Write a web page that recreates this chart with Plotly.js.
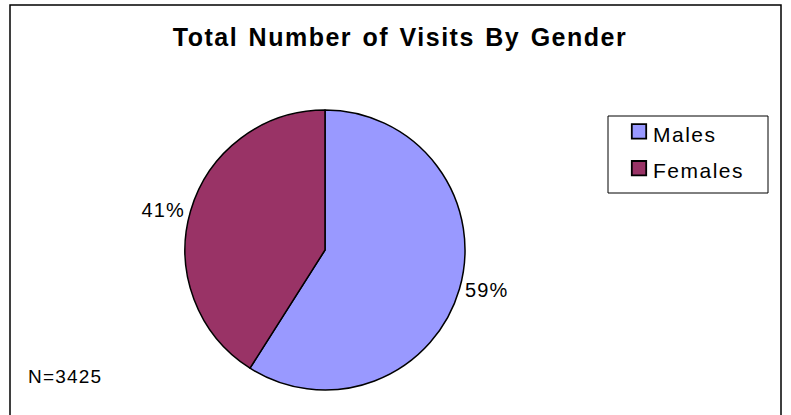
<!DOCTYPE html>
<html><head><meta charset="utf-8">
<script src="https://cdn.plot.ly/plotly-3.0.1.min.js"></script>
<style>
html,body{margin:0;padding:0;background:#fff}
#chart{width:791px;height:415px}
.gtitle{letter-spacing:1.5px;word-spacing:2px}
.legendtext{letter-spacing:1.5px}
.slicetext{letter-spacing:1.2px}
.annotation-text{letter-spacing:1.2px}
.legendpie{transform:translate(31px,0px) scale(1.2)}
</style>
</head><body><div id="chart"></div>
<script>
const categories = ["Males", "Females"];
const percentages = [59, 41];
const sliceColors = ["#9999FF", "#993366"];
const titleText = "Total Number of Visits By Gender";
const noteText = "N=3425";

const W = 791, H = 415;
const trace = {
  type: "pie",
  labels: categories.map(c => '<span style="font-size:21px">' + c + '</span>'),
  values: percentages,
  sort: false,
  direction: "clockwise",
  rotation: 0,
  marker: {colors: sliceColors, line: {color: "#000000", width: 1.5}},
  textinfo: "percent",
  textposition: "outside",
  texttemplate: "%{percent:.0%}",
  outsidetextfont: {family: "Liberation Sans, Arial, sans-serif", size: 20, color: "#000"},
  domain: {x: [185/W, 465/W], y: [(H-390)/H, (H-110)/H]},
  hoverinfo: "percent"
};
const layout = {
  width: W, height: H,
  margin: {l: 0, r: 0, t: 0, b: 0},
  paper_bgcolor: "#ffffff",
  font: {family: "Liberation Sans, Arial, sans-serif", color: "#000"},
  title: {text: "<b>" + titleText + "</b>", font: {size: 25, color: "#000"}, x: 400/W, xanchor: "center", y: 1 - 37/H, yanchor: "middle"},
  showlegend: true,
  legend: {x: 608/W, y: 1 - 108/H, xanchor: "left", yanchor: "top", borderwidth: 0,
    font: {size: 26, color: "#000"}, bgcolor: "rgba(0,0,0,0)", itemwidth: 35, tracegroupgap: 0},
  shapes: [
    {type: "rect", xref: "paper", yref: "paper", x0: 10/W, x1: 781/W, y0: -0.01, y1: 1 - 5/H, line: {color: "#000", width: 1.5}, fillcolor: "rgba(0,0,0,0)"},
    {type: "rect", xref: "paper", yref: "paper", x0: 608/W, x1: 768/W, y0: 1 - 193/H, y1: 1 - 116/H, line: {color: "#000", width: 1}, fillcolor: "rgba(0,0,0,0)", layer: "below"}
  ],
  annotations: [{text: noteText, xref: "paper", yref: "paper", x: 26/W, y: 1 - 376/H, xanchor: "left", yanchor: "middle", showarrow: false, font: {size: 19, color: "#000"}}]
};
Plotly.newPlot("chart", [trace], layout, {displayModeBar: false, staticPlot: true});
</script></body></html>
